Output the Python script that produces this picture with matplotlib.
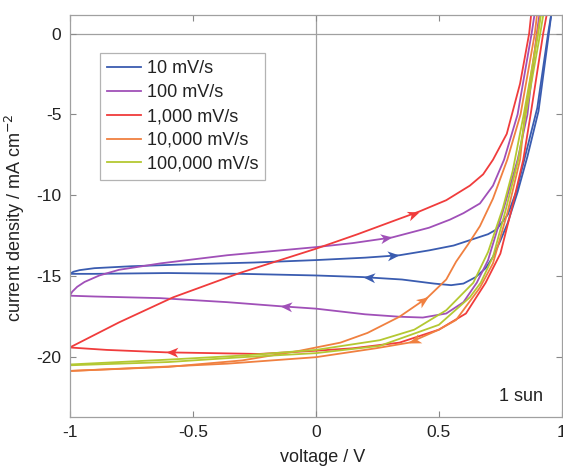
import numpy as np
import matplotlib
matplotlib.use('Agg')
import matplotlib.pyplot as plt
from matplotlib.path import Path
from matplotlib.markers import MarkerStyle
from matplotlib.transforms import Affine2D

plt.rcParams['font.family'] = ['Liberation Sans', 'DejaVu Sans']

# --- data (voltage in V, current density in mA/cm2) ---
labels = ['10 mV/s', '100 mV/s', '1,000 mV/s', '10,000 mV/s', '100,000 mV/s']
colors = ['#3a5cb0', '#a050b8', '#f03c3c', '#f08040', '#b4c832']

# 10 mV/s
v10_fwd = [-1.0, -0.985, -0.96, -0.9, -0.75, -0.5, -0.25, 0.0, 0.2, 0.34, 0.46, 0.56, 0.64,
           0.7, 0.735, 0.78, 0.816, 0.857, 0.9, 0.944, 0.958]
j10_fwd = [-14.85, -14.72, -14.62, -14.5, -14.38, -14.25, -14.15, -14.0, -13.85, -13.7, -13.4,
           -13.1, -12.7, -12.4, -12.1, -11.2, -9.7, -7.2, -4.6, 0.0, 1.3]
v10_rev = [0.958, 0.947, 0.905, 0.86, 0.82, 0.78, 0.75, 0.72, 0.69, 0.65, 0.6, 0.55, 0.48,
           0.35, 0.19, 0.0, -0.3, -0.6, -0.9, -1.0]
j10_rev = [1.3, 0.0, -4.8, -7.6, -9.8, -11.7, -12.8, -13.8, -14.5, -15.05, -15.45, -15.55,
           -15.45, -15.2, -15.05, -14.95, -14.85, -14.8, -14.85, -14.85]

# 100 mV/s
v100_fwd = [-1.0, -0.99, -0.97, -0.94, -0.88, -0.8, -0.63, -0.36, 0.0, 0.15, 0.31, 0.46, 0.545,
            0.6, 0.667, 0.72, 0.765, 0.82, 0.877, 0.89]
j100_fwd = [-16.2, -15.95, -15.65, -15.35, -14.95, -14.6, -14.2, -13.7, -13.2, -12.95, -12.6,
            -12.0, -11.5, -11.1, -10.5, -9.4, -7.8, -5.0, 0.0, 1.3]
v100_rev = [0.91, 0.898, 0.86, 0.82, 0.76, 0.7, 0.654, 0.6, 0.53, 0.435, 0.34, 0.2, 0.0,
            -0.146, -0.36, -0.634, -0.9, -1.0]
j100_rev = [1.3, 0.0, -5.0, -7.8, -11.0, -14.0, -15.4, -16.6, -17.3, -17.55, -17.5, -17.35,
            -17.0, -16.85, -16.6, -16.35, -16.25, -16.2]

# 1,000 mV/s
v1k_fwd = [-1.0, -0.8, -0.58, -0.31, 0.0, 0.17, 0.33, 0.42, 0.53, 0.626, 0.68, 0.72, 0.776,
           0.83, 0.867, 0.876]
j1k_fwd = [-19.4, -17.85, -16.3, -14.8, -13.3, -12.4, -11.5, -11.0, -10.3, -9.4, -8.7, -7.8,
           -6.2, -3.1, 0.0, 1.3]
v1k_rev = [0.94, 0.924, 0.873, 0.843, 0.8, 0.75, 0.69, 0.61, 0.5, 0.34, 0.15, 0.0, -0.23,
           -0.61, -0.85, -1.0]
j1k_rev = [1.3, 0.0, -5.0, -7.8, -10.6, -13.6, -15.4, -17.3, -18.3, -19.1, -19.45, -19.6,
           -19.8, -19.7, -19.55, -19.4]

# 10,000 mV/s
v10k_fwd = [-1.0, -0.6, -0.3, -0.065, 0.1, 0.21, 0.34, 0.455, 0.53, 0.57, 0.62, 0.667, 0.72,
            0.778, 0.832, 0.89, 0.9]
j10k_fwd = [-20.85, -20.6, -20.2, -19.6, -19.1, -18.5, -17.5, -16.3, -15.2, -14.1, -13.0,
            -11.9, -10.2, -7.8, -5.0, 0.0, 1.3]
v10k_rev = [0.915, 0.9, 0.85, 0.83, 0.78, 0.72, 0.667, 0.57, 0.5, 0.38, 0.244, 0.0, -0.36,
            -0.634, -1.0]
j10k_rev = [1.3, 0.0, -5.0, -7.8, -11.0, -14.2, -15.7, -17.7, -18.3, -19.1, -19.45, -20.0,
            -20.4, -20.6, -20.85]

# 100,000 mV/s
v100k_fwd = [-1.0, -0.6, -0.3, 0.0, 0.26, 0.4, 0.53, 0.64, 0.7, 0.76, 0.8, 0.845, 0.904, 0.916]
j100k_fwd = [-20.45, -20.15, -19.9, -19.55, -18.95, -18.3, -17.1, -15.4, -13.5, -10.8, -8.5,
             -5.0, 0.0, 1.3]
v100k_rev = [0.926, 0.912, 0.853, 0.823, 0.77, 0.72, 0.67, 0.626, 0.5, 0.26, 0.0, -0.3, -0.6, -1.0]
j100k_rev = [1.3, 0.0, -5.0, -7.8, -11.0, -13.8, -15.4, -16.3, -18.0, -19.3, -19.75, -20.0,
             -20.3, -20.5]

fwd = [(v10_fwd, j10_fwd), (v100_fwd, j100_fwd), (v1k_fwd, j1k_fwd),
       (v10k_fwd, j10k_fwd), (v100k_fwd, j100k_fwd)]
rev = [(v10_rev, j10_rev), (v100_rev, j100_rev), (v1k_rev, j1k_rev),
       (v10k_rev, j10k_rev), (v100k_rev, j100k_rev)]

# index of the data point where the scan-direction arrow sits (None = no arrow)
arrow_fwd = [9, 10, 7, 7, None]
arrow_rev = [14, 13, 13, 9, None]

# notched arrow head, tip at the origin pointing along +x
head = Path([(0, 0), (-1, 0.42), (-0.72, 0), (-1, -0.42), (0, 0)],
            [Path.MOVETO, Path.LINETO, Path.LINETO, Path.LINETO, Path.CLOSEPOLY])


def add_arrow(ax, v, j, i, color):
    # direction measured on screen, so the head follows the drawn line
    p0 = ax.transData.transform((v[i - 1], j[i - 1]))
    p1 = ax.transData.transform((v[i], j[i]))
    ang = np.degrees(np.arctan2(p1[1] - p0[1], p1[0] - p0[0]))
    m = MarkerStyle(head, transform=Affine2D().rotate_deg(ang))
    ax.plot(v[i], j[i], marker=m, markersize=17, color=color, markeredgewidth=0,
            linestyle='none')


fig = plt.figure(figsize=(5.63, 4.66), dpi=100)
ax = fig.add_axes([0.124, 0.105, 0.874, 0.863])
ax.set_xlim(-1, 1)
ax.set_ylim(-23.7, 1.15)

ax.axhline(0, color='#a0a0a0', lw=0.9, zorder=0)
ax.axvline(0, color='#a0a0a0', lw=0.9, zorder=0)

for k in range(len(labels)):
    c = colors[k]
    ax.plot(fwd[k][0], fwd[k][1], color=c, lw=1.3, label=labels[k])
    ax.plot(rev[k][0], rev[k][1], color=c, lw=1.3)
    if arrow_fwd[k] is not None:
        add_arrow(ax, fwd[k][0], fwd[k][1], arrow_fwd[k], c)
    if arrow_rev[k] is not None:
        add_arrow(ax, rev[k][0], rev[k][1], arrow_rev[k], c)

ax.set_xticks([-1, -0.5, 0, 0.5, 1])
ax.set_xticklabels(['-1', '-0.5', '0', '0.5', '1'])
ax.set_yticks([0, -5, -10, -15, -20])
ax.set_yticklabels(['0', '-5', '-10', '-15', '-20'])
ax.tick_params(direction='in', length=4, width=0.8, color='#888888', labelsize=12.5,
               labelcolor='#222222', top=True, right=True, pad=6)
for s in ax.spines.values():
    s.set_color('#a0a0a0')
    s.set_linewidth(0.9)

fig.text(323 / 563, 1 - 458 / 466, 'voltage / V', ha='center', va='center',
         fontsize=13, color='#222222')
fig.text(15 / 563, 1 - 218 / 466, 'current density / mA cm$^{-2}$', rotation=90,
         ha='center', va='center', fontsize=13, color='#222222')

ax.text(0.961, 0.052, '1 sun', transform=ax.transAxes, ha='right', va='center',
        fontsize=13, color='#222222')

leg = ax.legend(loc='upper left', bbox_to_anchor=(0.061, 0.905), borderaxespad=0,
                fontsize=13, handlelength=1.9, handletextpad=0.3, labelspacing=0.38,
                borderpad=0.4, fancybox=False, frameon=True)
leg.get_frame().set_edgecolor('#a0a0a0')
leg.get_frame().set_linewidth(0.9)
for t in leg.get_texts():
    t.set_color('#222222')

fig.savefig('out.png', dpi=100)
